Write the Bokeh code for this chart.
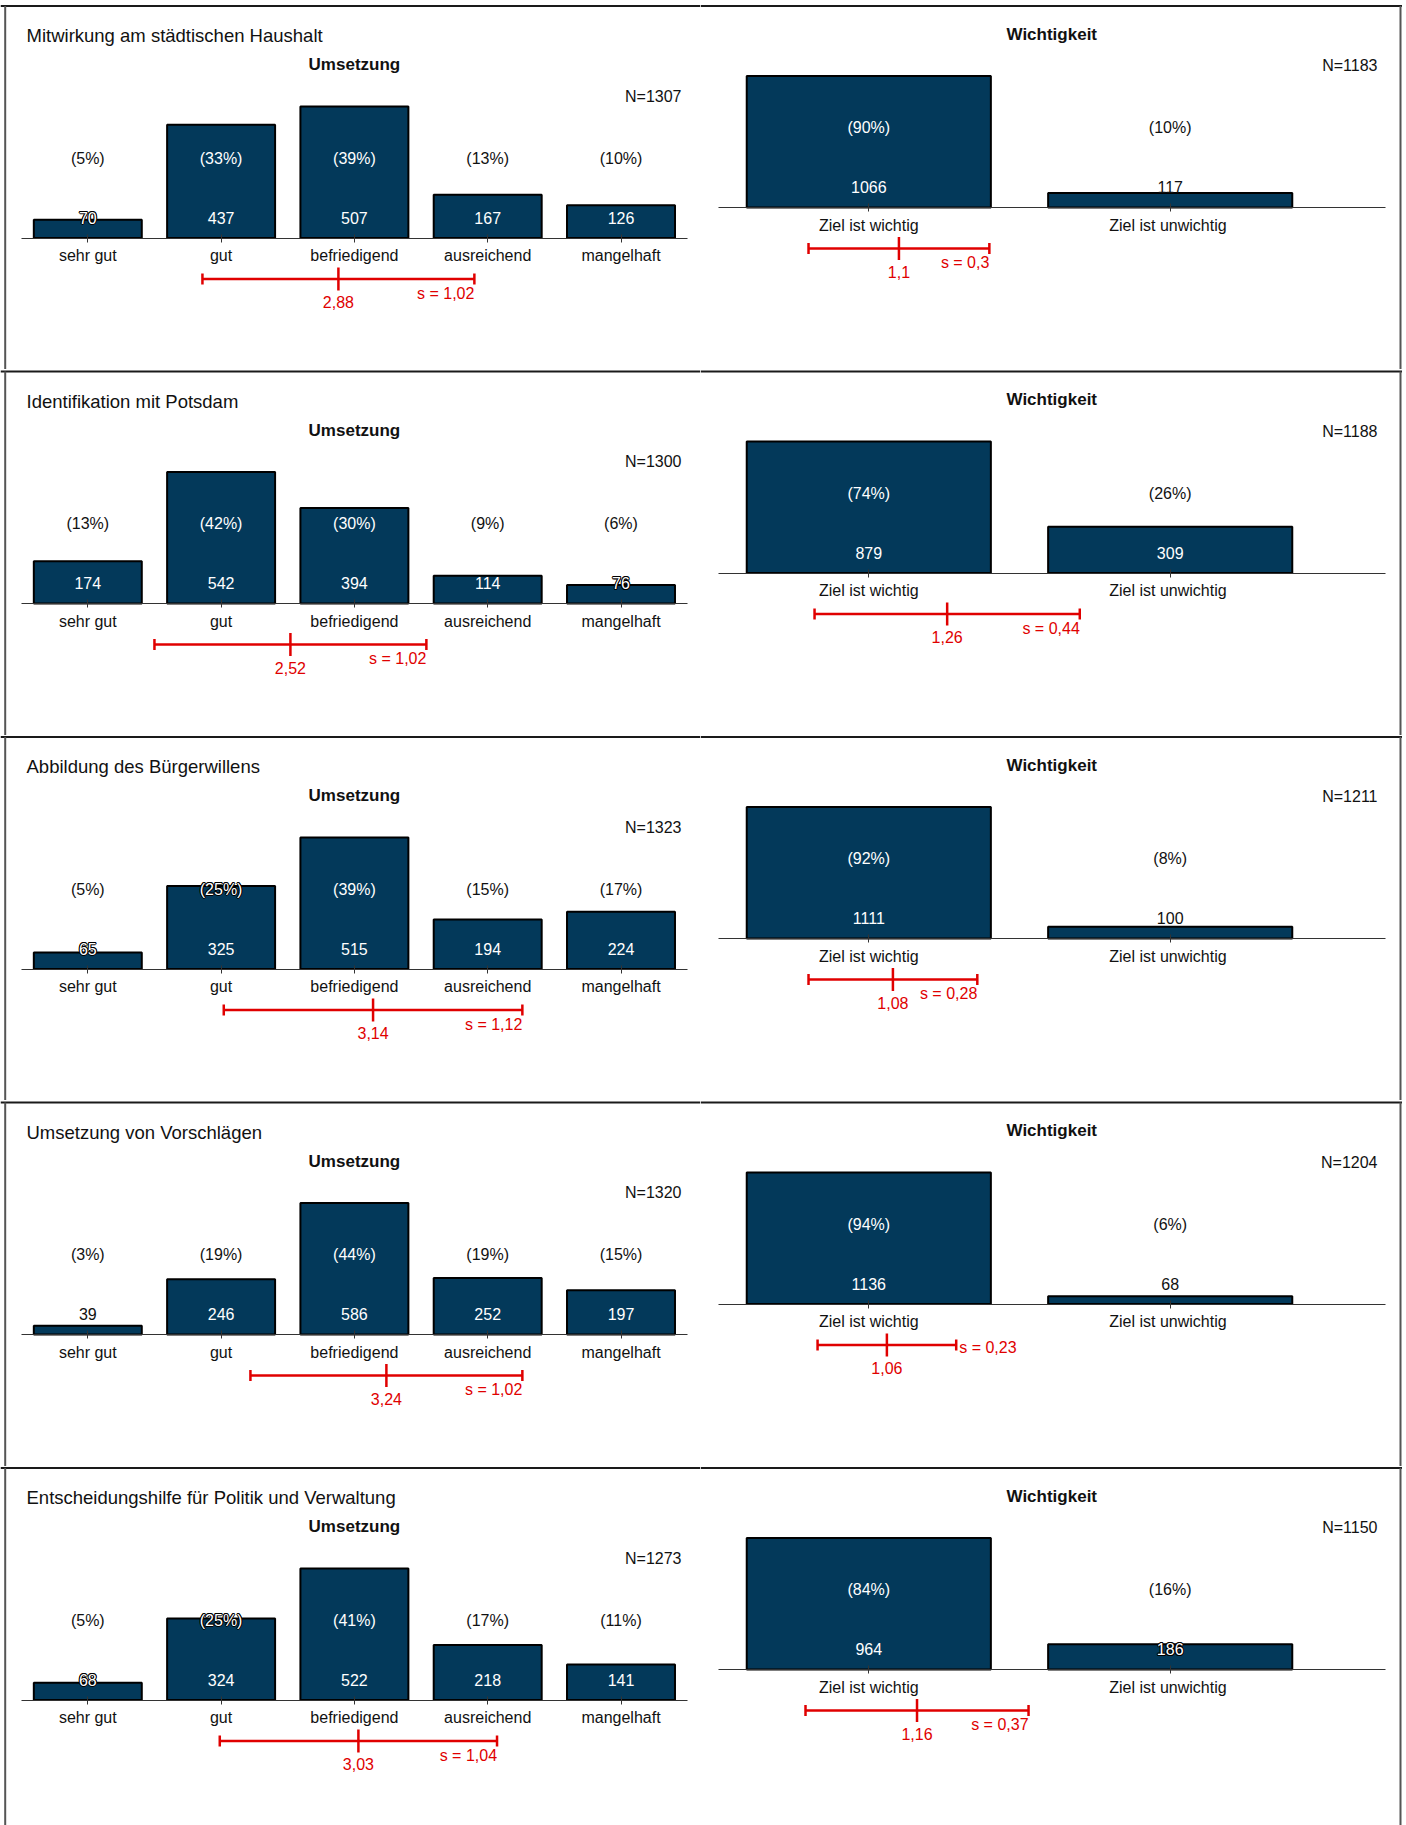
from bokeh.plotting import figure
from bokeh.layouts import gridplot
from bokeh.models import Range1d, FixedTicker
from bokeh.embed import file_html
from bokeh.resources import INLINE
from bokeh.core.properties import value

# ---------------- data ----------------
sections = [
    "Mitwirkung am städtischen Haushalt",
    "Identifikation mit Potsdam",
    "Abbildung des Bürgerwillens",
    "Umsetzung von Vorschlägen",
    "Entscheidungshilfe für Politik und Verwaltung",
]
u_title = "Umsetzung"
w_title = "Wichtigkeit"
u_labels = ["sehr gut", "gut", "befriedigend", "ausreichend", "mangelhaft"]
w_labels = ["Ziel ist wichtig", "Ziel ist  unwichtig"]

u_counts = [
    [70, 437, 507, 167, 126],
    [174, 542, 394, 114, 76],
    [65, 325, 515, 194, 224],
    [39, 246, 586, 252, 197],
    [68, 324, 522, 218, 141],
]
u_pct = [
    [5, 33, 39, 13, 10],
    [13, 42, 30, 9, 6],
    [5, 25, 39, 15, 17],
    [3, 19, 44, 19, 15],
    [5, 25, 41, 17, 11],
]
u_n = [1307, 1300, 1323, 1320, 1273]
u_mean = [2.88, 2.52, 3.14, 3.24, 3.03]
u_sd = [1.02, 1.02, 1.12, 1.02, 1.04]

w_counts = [
    [1066, 117],
    [879, 309],
    [1111, 100],
    [1136, 68],
    [964, 186],
]
w_pct = [
    [90, 10],
    [74, 26],
    [92, 8],
    [94, 6],
    [84, 16],
]
w_n = [1183, 1188, 1211, 1204, 1150]
w_mean = [1.1, 1.26, 1.08, 1.06, 1.16]
w_sd = [0.3, 0.44, 0.28, 0.23, 0.37]

# ---------------- style / layout ----------------
FONT = "Liberation Sans"
NAVY = "#03395A"
RED = "#E00000"
TXT = "#111111"
ROW_TOP = [0, 369, 735, 1100, 1466]      # page y of each row canvas
ROW_H = [369, 366, 365, 366, 359]
LINE0 = 5.5                               # page y of first frame line
LINE_STEP = 365.5                         # distance between row lines
BAR_PX = 131.5                            # pixel height of tallest bar
BAR_W = 0.81

# x geometry in page pixels; axis offset is relative to the row line
GEO_LEFT = dict(x0=0, w=700, c1=87.3, step=133.3, axis=232, end=5.5,
                n_right=681, border=4.7)
GEO_RIGHT = dict(x0=700, w=702, c1=868.3, step=301.4, axis=201.5, end=2.714,
                 n_right=1377, border=1400.0)


def fmt(v):
    return str(v).replace(".", ",")


def make_panel(labels, counts, pct, n, mean, sd, subtitle, section, geo, r, side):
    height = ROW_H[r]
    line_off = LINE0 + LINE_STEP * r - ROW_TOP[r]   # row line inside canvas
    axis_off = line_off + geo["axis"]              # axis inside canvas
    k = BAR_PX / max(counts)        # px per count
    py = 1.0 / k                    # data units per px (y)
    pxu = 1.0 / geo["step"]         # data units per px (x)
    y_hi = axis_off * py
    y_lo = -(height - axis_off) * py
    x_lo = 1 + (geo["x0"] - geo["c1"]) * pxu
    x_hi = x_lo + geo["w"] * pxu

    p = figure(width=geo["w"], height=height,
               x_range=Range1d(x_lo, x_hi), y_range=Range1d(y_lo, y_hi),
               output_backend="svg", toolbar_location=None, tools="",
               y_axis_type=None, min_border=0)
    p.min_border_left = p.min_border_right = 0
    p.min_border_top = p.min_border_bottom = 0
    p.outline_line_color = None
    p.background_fill_color = "white"
    p.border_fill_color = "white"
    p.xgrid.visible = False
    p.ygrid.visible = False

    xs = list(range(1, len(labels) + 1))
    ax = p.xaxis[0]
    ax.fixed_location = 0
    ax.ticker = FixedTicker(ticks=xs)
    ax.major_label_overrides = {x: lab for x, lab in zip(xs, labels)}
    ax.bounds = (0.5, geo["end"])
    ax.minor_tick_line_color = None
    ax.axis_line_color = "#333333"
    ax.axis_line_width = 1.2
    ax.major_tick_line_color = "#333333"
    ax.major_tick_in = 4
    ax.major_tick_out = 4
    ax.major_label_standoff = 5
    ax.major_label_text_font = FONT
    ax.major_label_text_font_size = "16px"
    ax.major_label_text_color = TXT

    # frame lines (top of row, outer left / right border)
    y_line = y_hi - line_off * py
    xb = x_lo + (geo["border"] - geo["x0"]) * pxu
    p.segment(x0=[x_lo], y0=[y_line], x1=[x_hi], y1=[y_line],
              line_color="#1a1a1a", line_width=2)
    p.segment(x0=[xb], y0=[y_line], x1=[xb], y1=[y_lo],
              line_color="#555555", line_width=2)

    # bars
    p.vbar(x=xs, top=counts, bottom=0, width=BAR_W, fill_color=NAVY,
           line_color="#000000", line_width=2)

    # value labels: white inside bar, black outside, outlined when straddling
    half = 6.0
    groups = {"in": ([], [], []), "out": ([], [], []), "mix": ([], [], [])}
    for x, c, pc in zip(xs, counts, pct):
        top_px = c * k
        for cy_px, txt in ((80.0, f"({pc}%)"), (20.5, str(c))):
            if top_px >= cy_px + half:
                g = "in"
            elif top_px <= cy_px - half:
                g = "out"
            else:
                g = "mix"
            groups[g][0].append(x)
            groups[g][1].append(cy_px * py)
            groups[g][2].append(txt)
    common = dict(text_font=value(FONT), text_font_size="16px",
                  text_align="center", text_baseline="middle")
    if groups["in"][0]:
        p.text(x=groups["in"][0], y=groups["in"][1], text=groups["in"][2],
               text_color="white", **common)
    if groups["out"][0]:
        p.text(x=groups["out"][0], y=groups["out"][1], text=groups["out"][2],
               text_color=TXT, **common)
    if groups["mix"][0]:
        for dx, dy in ((-1, 0), (1, 0), (0, -1), (0, 1),
                       (-0.7, -0.7), (0.7, 0.7), (-0.7, 0.7), (0.7, -0.7)):
            p.text(x=groups["mix"][0], y=groups["mix"][1], text=groups["mix"][2],
                   text_color="#000000", x_offset=dx, y_offset=dy, **common)
        p.text(x=groups["mix"][0], y=groups["mix"][1], text=groups["mix"][2],
               text_color="white", **common)

    # N label
    p.text(x=[x_lo + (geo["n_right"] - geo["x0"]) * pxu], y=[142 * py],
           text=[f"N={n}"], text_color=TXT, text_font=value(FONT),
           text_font_size="16px", text_align="right", text_baseline="middle")

    # subtitle (bold)
    p.text(x=[(0.5 + geo["end"]) / 2], y=[173.5 * py], text=[subtitle],
           text_color=TXT, text_font=value(FONT), text_font_size="17px",
           text_font_style="bold", text_align="center", text_baseline="middle")

    # section title (left only)
    if section:
        p.text(x=[x_lo + 26 * pxu], y=[202.5 * py], text=[section],
               text_color=TXT, text_font=value(FONT), text_font_size="18.5px",
               text_align="left", text_baseline="middle")

    # mean +/- sd bar
    yr = -41 * py
    lo, hi = mean - sd, mean + sd
    p.segment(x0=[lo], y0=[yr], x1=[hi], y1=[yr], line_color=RED, line_width=2.5)
    p.segment(x0=[lo, hi], y0=[yr - 5.5 * py] * 2, x1=[lo, hi], y1=[yr + 5.5 * py] * 2,
              line_color=RED, line_width=2.5)
    p.segment(x0=[mean], y0=[yr - 11.5 * py], x1=[mean], y1=[yr + 11.5 * py],
              line_color=RED, line_width=2.5)
    p.text(x=[mean], y=[-64 * py], text=[fmt(mean)], text_color=RED,
           text_font=value(FONT), text_font_size="16px", text_align="center",
           text_baseline="middle")
    s_txt = f"s = {fmt(sd)}"
    s_w = 7.2 * len(s_txt)
    m_w = 8.0 * len(fmt(mean))
    if sd * geo["step"] >= s_w + m_w / 2:
        p.text(x=[hi], y=[-55 * py], text=[s_txt], text_color=RED,
               text_font=value(FONT), text_font_size="16px", text_align="right",
               text_baseline="middle")
    else:
        p.text(x=[hi + 3 * pxu], y=[-43 * py], text=[s_txt], text_color=RED,
               text_font=value(FONT), text_font_size="16px", text_align="left",
               text_baseline="middle")
    return p


rows = []
for i in range(len(sections)):
    left = make_panel(u_labels, u_counts[i], u_pct[i], u_n[i], u_mean[i], u_sd[i],
                      u_title, sections[i], GEO_LEFT, i, "left")
    right = make_panel(w_labels, w_counts[i], w_pct[i], w_n[i], w_mean[i], w_sd[i],
                       w_title, None, GEO_RIGHT, i, "right")
    rows.append([left, right])

grid = gridplot(rows, toolbar_location=None)

open("out.html", "w").write(file_html(grid, INLINE, title="Umsetzung und Wichtigkeit"))
